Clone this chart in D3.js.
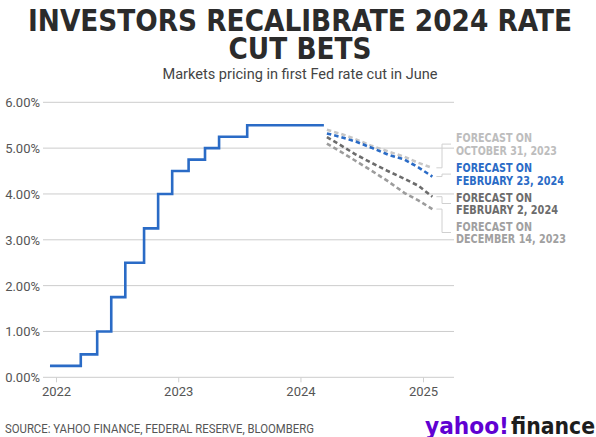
<!DOCTYPE html>
<html><head><meta charset="utf-8">
<script src="https://cdn.jsdelivr.net/npm/d3@7"></script>
<style>
html,body{margin:0;padding:0;background:#fff;}
svg{display:block;}
</style></head>
<body>
<script>
// ---- data ----
const rateDates = ["2021-12-14","2022-03-16","2022-05-04","2022-06-15","2022-07-27","2022-09-21","2022-11-02","2022-12-14","2023-02-01","2023-03-22","2023-05-03","2023-07-26","2024-03-11"];
const rateValues = [0.25,0.5,1.0,1.75,2.5,3.25,4.0,4.5,4.75,5.0,5.25,5.5,5.5];

const meetingDates = ["2024-03-20","2024-05-01","2024-06-12","2024-07-31","2024-09-18","2024-11-07","2024-12-18","2025-01-29"];
const forecastOct31 = [5.40,5.31,5.20,5.05,4.93,4.81,4.68,4.57];
const forecastFeb23 = [5.32,5.24,5.15,5.01,4.86,4.75,4.58,4.38];
const forecastFeb2  = [5.24,5.06,4.87,4.68,4.50,4.33,4.18,3.94];
const forecastDec14 = [5.10,4.92,4.73,4.51,4.28,4.02,3.86,3.67];

const labelLines = [["FORECAST ON","OCTOBER 31, 2023"],["FORECAST ON","FEBRUARY 23, 2024"],["FORECAST ON","FEBRUARY 2, 2024"],["FORECAST ON","DECEMBER 14, 2023"]];
const yTicks = [0,1,2,3,4,5,6];
const xTickYears = ["2022","2023","2024","2025"];

const title1 = "INVESTORS RECALIBRATE 2024 RATE";
const title2 = "CUT BETS";
const subtitle = "Markets pricing in first Fed rate cut in June";
const source = "SOURCE: YAHOO FINANCE, FEDERAL RESERVE, BLOOMBERG";

// ---- setup ----
const W = 596, H = 437;
const parse = d3.timeParse("%Y-%m-%d");
const svg = d3.select("body").append("svg").attr("width", W).attr("height", H);

const x = d3.scaleTime().domain([parse("2022-01-01"), parse("2025-01-01")]).range([56, 423]);
const y = d3.scaleLinear().domain([0, 6]).range([377.3, 102.3]);
const gridX0 = 43, gridX1 = 454;

const condensed = "'DejaVu Sans Condensed','Liberation Sans Narrow',sans-serif";
const body = "Roboto,'Liberation Sans',sans-serif";

// titles
svg.append("text").attr("x", 300).attr("y", 31).attr("text-anchor","middle")
  .attr("font-family", condensed).attr("font-weight","bold").attr("font-size", 31)
  .attr("fill","#2b2b2b").attr("textLength", 544).attr("lengthAdjust","spacingAndGlyphs").text(title1);
svg.append("text").attr("x", 300).attr("y", 59).attr("text-anchor","middle")
  .attr("font-family", condensed).attr("font-weight","bold").attr("font-size", 31)
  .attr("fill","#2b2b2b").attr("textLength", 143).attr("lengthAdjust","spacingAndGlyphs").text(title2);
svg.append("text").attr("x", 300).attr("y", 79).attr("text-anchor","middle")
  .attr("font-family", body).attr("font-size", 14).attr("fill","#444")
  .attr("textLength", 275).attr("lengthAdjust","spacingAndGlyphs").text(subtitle);

// grid + y labels
const gy = svg.append("g");
yTicks.forEach(t => {
  gy.append("line").attr("x1", gridX0).attr("x2", gridX1).attr("y1", y(t)).attr("y2", y(t))
    .attr("stroke", "#cccccc").attr("stroke-width", 1);
  gy.append("text").attr("x", 40).attr("y", y(t) + 5).attr("text-anchor","end")
    .attr("font-family", body).attr("font-size", 13).attr("fill","#555")
    .text(d3.format(".2f")(t) + "%");
});

// x axis ticks
const xa = d3.axisBottom(x).tickValues(xTickYears.map(v => parse(v + "-01-01")))
  .tickFormat(d3.timeFormat("%Y")).tickSize(5).tickPadding(4);
const gx = svg.append("g").attr("transform", `translate(0,${y(0)})`).call(xa);
gx.select(".domain").remove();
gx.selectAll(".tick line").attr("stroke","#d0d0d0");
gx.selectAll(".tick text").attr("font-family", body).attr("font-size", 13).attr("fill","#555");

// rate step line
const rates = rateDates.map((d,i) => ({d: parse(d), v: rateValues[i]}));
svg.append("path").datum(rates)
  .attr("d", d3.line().x(p => x(p.d)).y(p => y(p.v)).curve(d3.curveStepAfter))
  .attr("fill","none").attr("stroke","#2a6bc6").attr("stroke-width", 2.6);

// forecasts
const fcValues = [forecastOct31, forecastFeb23, forecastFeb2, forecastDec14];
const fcColors = ["#c6c6c6","#2a6bc6","#6c6c6c","#9c9c9c"];
const labelColors = ["#bdbdbd","#2a6bc6","#6c6c6c","#a0a0a0"];
const labelBase = [142.3, 172.3, 201.7, 230.7];
const labelWidths = [[76,101],[76,108],[76,102],[76,110]];
const drawOrder = [0,3,2,1];
const line = d3.line().x(p => x(p.d)).y(p => y(p.v));
const md = meetingDates.map(parse);

// connectors
fcValues.forEach((vals, i) => {
  const ex = x(md[md.length-1]), ey = y(vals[vals.length-1]);
  const cy = labelBase[i] + 1.8;
  svg.append("path")
    .attr("d", `M${ex+4},${ey}H442V${cy}H451`)
    .attr("fill","none").attr("stroke","#d0d0d0").attr("stroke-width",1);
});

drawOrder.forEach(i => {
  const pts = md.map((d,j) => ({d, v: fcValues[i][j]}));
  svg.append("path").datum(pts).attr("d", line)
    .attr("fill","none").attr("stroke", fcColors[i]).attr("stroke-width", 2.6)
    .attr("stroke-dasharray","4.5,3");
});

// labels
labelLines.forEach((lines, i) => {
  lines.forEach((s, k) => {
    svg.append("text").attr("x", 456).attr("y", labelBase[i] + k * 12.4)
      .attr("font-family", condensed).attr("font-weight","bold").attr("font-size", 12.2)
      .attr("fill", labelColors[i])
      .attr("textLength", labelWidths[i][k]).attr("lengthAdjust","spacingAndGlyphs").text(s);
  });
});

// source
svg.append("text").attr("x", 5).attr("y", 433).attr("font-family", body).attr("font-size", 12)
  .attr("fill","#555").attr("textLength", 309).attr("lengthAdjust","spacingAndGlyphs").text(source);

// logo
svg.append("text").attr("x", 425).attr("y", 434)
  .attr("font-family","'DejaVu Sans',sans-serif").attr("font-weight","bold").attr("font-size", 23)
  .attr("fill","#6001d2").attr("textLength", 84).attr("lengthAdjust","spacingAndGlyphs").text("yahoo!");
svg.append("text").attr("x", 511).attr("y", 434)
  .attr("font-family","'DejaVu Sans',sans-serif").attr("font-weight","bold").attr("font-size", 23)
  .attr("fill","#1d1d1d").attr("textLength", 84).attr("lengthAdjust","spacingAndGlyphs").text("finance");
</script>
</body></html>
